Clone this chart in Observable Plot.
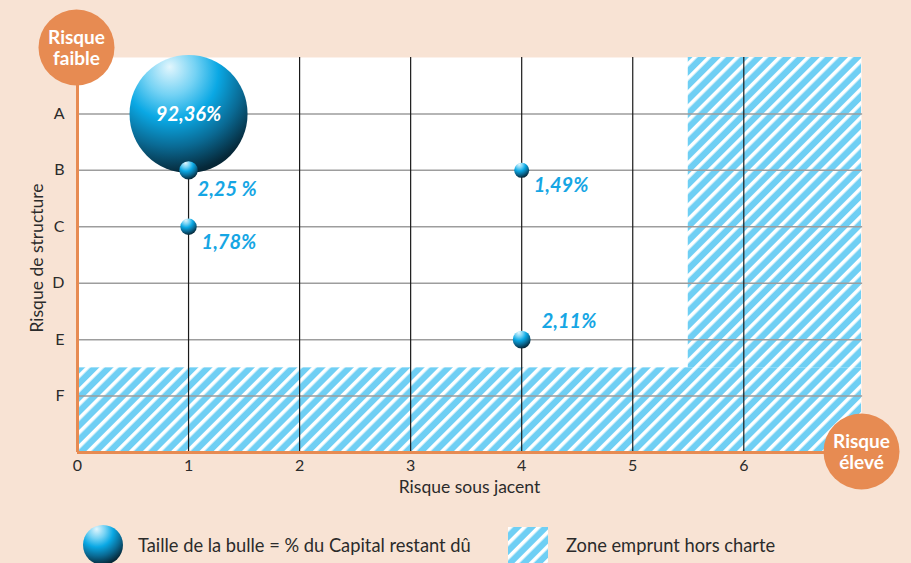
<!DOCTYPE html>
<html>
<head>
<meta charset="utf-8">
<script src="https://cdn.jsdelivr.net/npm/d3@7"></script>
<script src="https://cdn.jsdelivr.net/npm/@observablehq/plot@0.6"></script>
<style>
  html, body { margin: 0; padding: 0; background: #f8e3d4; }
  body { width: 911px; height: 563px; position: relative; overflow: hidden; font-family: Lato, "Open Sans", sans-serif; color: #2b2b2b; }
  #chart svg { display: block; }
  .leg { position: absolute; }
  .legtext { position: absolute; font-size: 18.3px; line-height: 20px; white-space: nowrap; }
</style>
</head>
<body>
<div id="chart"></div>
<svg class="leg" style="left:83px;top:525px" width="42" height="42">
  <circle cx="20" cy="20" r="20" fill="url(#bubbleGrad)"></circle>
</svg>
<div class="legtext" style="left:138px;top:535px">Taille de la bulle = % du Capital restant dû</div>
<svg class="leg" style="left:508px;top:527px" width="40" height="40">
  <rect x="0" y="0" width="40" height="40" fill="url(#hatch)"></rect>
</svg>
<div class="legtext" style="left:566px;top:535px">Zone emprunt hors charte</div>
<script>
// ---- data ----
const xTicks = [0, 1, 2, 3, 4, 5, 6];
const yCategories = ["A", "B", "C", "D", "E", "F"];
const bubbleX = [1, 1, 1, 4, 4];
const bubbleY = ["A", "B", "C", "B", "E"];
const bubbleShare = [92.36, 2.25, 1.78, 1.49, 2.11];
const bubbleLabels = ["92,36%", "2,25 %", "1,78%", "1,49%", "2,11%"];
// hatched "hors charte" zones (x in risk units, y in category positions: A=1 … F=6)
const hatchX1 = [5.5, 0];
const hatchX2 = [7.06, 7.06];
const hatchY1 = [0, 5.5];
const hatchY2 = [5.5, 7];

// ---- styles (kept apart from data) ----
const labelDx = [0, 9, 13, 12, 20];
const labelDy = [0, 19, 15, 15, -19];
const labelFill = ["white", "#16a6e4", "#16a6e4", "#16a6e4", "#16a6e4"];
const labelAnchor = ["middle", "start", "start", "start", "start"];
const orange = "#e78b52";

const bubbles = bubbleX.map((x, i) => ({
  x, y: yCategories.indexOf(bubbleY[i]) + 1, share: bubbleShare[i], label: bubbleLabels[i], i
}));
const zones = hatchX1.map((x1, i) => ({x1, x2: hatchX2[i], y1: hatchY1[i], y2: hatchY2[i]}));
const yPositions = yCategories.map((c, i) => i + 1);

const plot = Plot.plot({
  width: 911,
  height: 515,
  marginLeft: 77,
  marginRight: 50,
  marginTop: 57,
  marginBottom: 63,
  style: {background: "transparent", fontFamily: "Lato, 'Open Sans', sans-serif", fontSize: "16px", color: "#2b2b2b", overflow: "visible"},
  x: {domain: [0, 7.06], axis: null},
  y: {domain: [0, 7], reverse: true, axis: null},
  r: {domain: [0, 92.36], range: [0, 59]},
  marks: [
    Plot.frame({fill: "white", stroke: "none"}),
    Plot.rect(zones, {x1: "x1", x2: "x2", y1: "y1", y2: "y2", fill: "url(#hatch)"}),
    Plot.ruleY(yPositions, {x1: 0, x2: 7.07, stroke: "#9d9d9d", strokeWidth: 1.5}),
    Plot.ruleX(xTicks.slice(1), {stroke: "#1a1a1a", strokeWidth: 1.2}),
    Plot.ruleX([0], {stroke: orange, strokeWidth: 3}),
    Plot.ruleY([7], {stroke: orange, strokeWidth: 3}),
    Plot.dot(bubbles, {x: "x", y: "y", r: "share", fill: "url(#bubbleGrad)", stroke: "none", sort: {channel: "r", order: "descending"}}),
    Plot.text(bubbles, {
      x: "x", y: "y", text: "label",
      fontSize: 20, fontWeight: "bold", fontStyle: "italic",
      textAnchor: "start",
      render: (index, scales, values, dims, ctx, next) => {
        const g = next(index, scales, values, dims, ctx);
        d3.select(g).selectAll("text").each(function(_, k) {
          const i = index[k];
          const el = d3.select(this);
          el.attr("text-anchor", labelAnchor[i]);
          el.attr("transform", null);
          el.attr("x", scales.x(bubbles[i].x) + labelDx[i]);
          el.attr("y", scales.y(bubbles[i].y) + labelDy[i]);
          el.attr("dy", "0.35em");
          el.attr("fill", labelFill[i]);
        });
        return g;
      }
    }),
    Plot.axisX({ticks: xTicks, tickFormat: d => String(d), tickSize: 0, tickPadding: 7, label: null, fontSize: 16}),
    Plot.axisY({ticks: yPositions, tickFormat: d => yCategories[d - 1], tickSize: 0, tickPadding: 13, label: null, fontSize: 16}),
    Plot.text(["Risque sous jacent"], {frameAnchor: "bottom", dy: 40, text: d => d, fontSize: 17.5}),
    Plot.text(["Risque de structure"], {frameAnchor: "left", dx: -40, dy: 3, text: d => d, rotate: -90, fontSize: 17.5, textAnchor: "middle", lineAnchor: "middle"}),
    Plot.dot(["Risque faible"], {frameAnchor: "top-left", dx: -1, dy: -10, r: 38, fill: orange}),
    Plot.text(["Risque\nfaible"], {frameAnchor: "top-left", dx: -1, dy: -10, text: d => d, fill: "white", fontSize: 19, fontWeight: "bold", lineHeight: 1.15, textAnchor: "middle", lineAnchor: "middle"}),
    Plot.dot(["Risque élevé"], {frameAnchor: "bottom-right", dy: -1, r: 38, fill: orange}),
    Plot.text(["Risque\nélevé"], {frameAnchor: "bottom-right", dy: -1, text: d => d, fill: "white", fontSize: 19, fontWeight: "bold", lineHeight: 1.15, textAnchor: "middle", lineAnchor: "middle"})
  ]
});

// gradient + hatch definitions
const defs = `
<defs>
  <radialGradient id="bubbleGrad" cx="0.36" cy="0.2" r="0.9" fx="0.34" fy="0.1">
    <stop offset="0" stop-color="#e2f6fd"/>
    <stop offset="0.24" stop-color="#74d2f4"/>
    <stop offset="0.45" stop-color="#0aa8e4"/>
    <stop offset="0.68" stop-color="#0a6a94"/>
    <stop offset="0.9" stop-color="#06293a"/>
    <stop offset="1" stop-color="#041c27"/>
  </radialGradient>
  <pattern id="hatch" patternUnits="userSpaceOnUse" width="10" height="10" patternTransform="rotate(45)">
    <rect x="0" y="0" width="10" height="10" fill="#6fcff4"/>
    <rect x="0" y="0" width="3.6" height="10" fill="white"/>
  </pattern>
</defs>`;
const holder = document.createElementNS("http://www.w3.org/2000/svg", "svg");
holder.setAttribute("width", 0);
holder.setAttribute("height", 0);
holder.style.position = "absolute";
holder.innerHTML = defs;
document.body.insertBefore(holder, document.body.firstChild);
document.getElementById("chart").appendChild(plot);
</script>
</body>
</html>
